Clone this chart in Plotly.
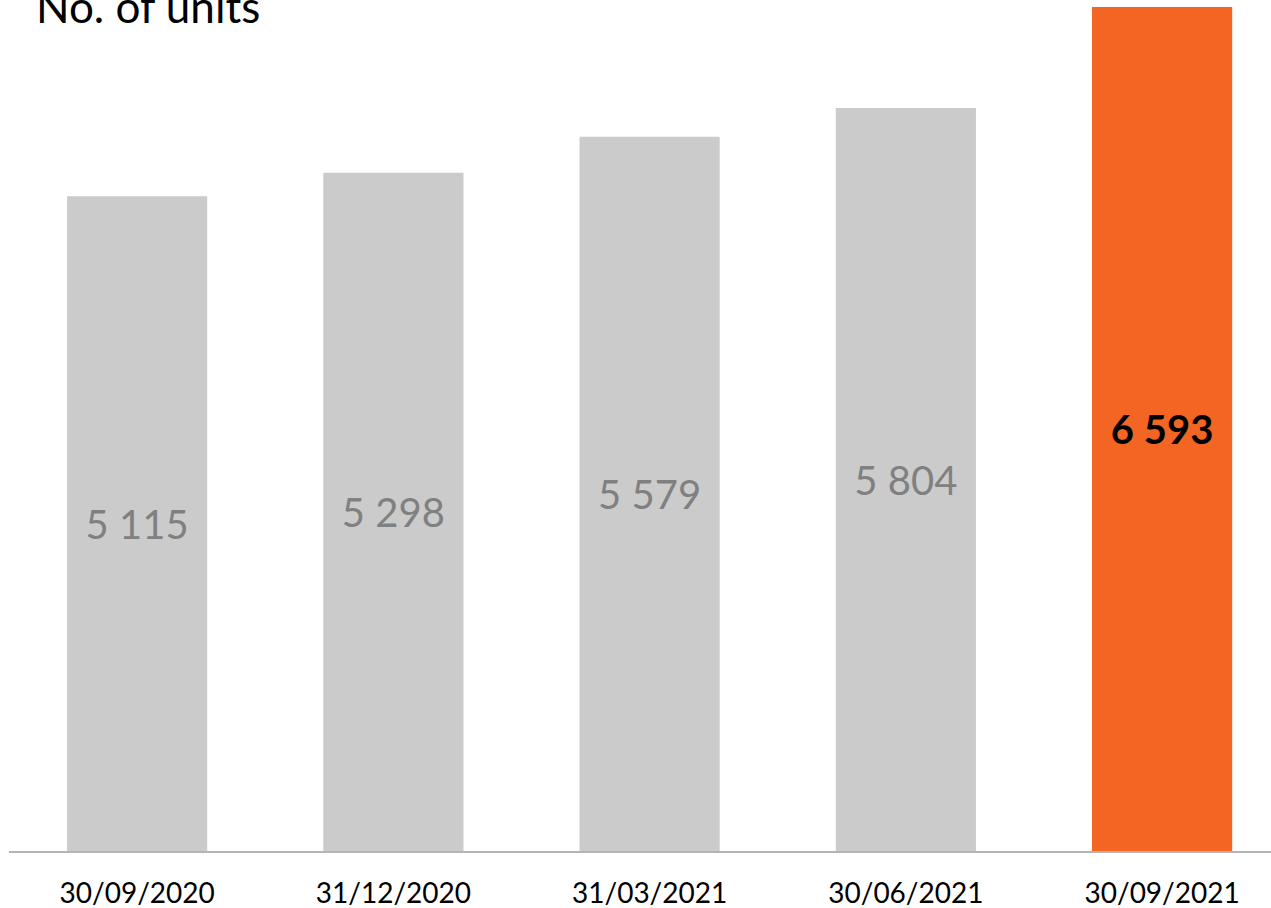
import plotly.graph_objects as go

categories = ["30/09/2020", "31/12/2020", "31/03/2021", "30/06/2021", "30/09/2021"]
values = [5115, 5298, 5579, 5804, 6593]
bar_colors = ["#CBCBCB", "#CBCBCB", "#CBCBCB", "#CBCBCB", "#F36523"]
label_colors = ["#808080", "#808080", "#808080", "#808080", "#000000"]
title_text = "No. of units"

labels = []
for i, v in enumerate(values):
    s = f"{v:,}".replace(",", " ")
    if i == len(values) - 1:
        s = f"<b>{s}</b>"
    labels.append(s)

fig = go.Figure(
    go.Bar(
        x=categories,
        y=values,
        marker=dict(color=bar_colors, line=dict(width=0)),
        text=labels,
        textposition="inside",
        insidetextanchor="middle",
        textangle=0,
        constraintext="none",
        textfont=dict(family="Lato", size=40, color=label_colors),
        hoverinfo="skip",
    )
)

W, H = 1271, 908
ml, mr, mt, mb = 9, 0, 0, 57
plot_h = H - mt - mb

fig.update_layout(
    width=W,
    height=H,
    margin=dict(l=ml, r=mr, t=mt, b=mb, autoexpand=False),
    paper_bgcolor="white",
    plot_bgcolor="white",
    bargap=0.453,
    showlegend=False,
    font=dict(family="Lato", color="#000000"),
    xaxis=dict(
        type="category",
        range=[-0.5, 4.425],
        showgrid=False,
        zeroline=False,
        showline=True,
        linecolor="#B4B4B4",
        linewidth=2,
        ticks="",
        ticklabelstandoff=16,
        tickfont=dict(family="Lato", size=28, color="#000000"),
        automargin=False,
        fixedrange=True,
    ),
    yaxis=dict(
        range=[0, 6593 * 851 / 844],
        visible=False,
        showgrid=False,
        zeroline=False,
        automargin=False,
        fixedrange=True,
    ),
    annotations=[
        dict(
            text=title_text,
            xref="paper",
            yref="paper",
            x=(34 - ml) / (W - ml - mr),
            y=1 - 6 / plot_h,
            xanchor="left",
            yanchor="middle",
            showarrow=False,
            font=dict(family="Lato", size=44, color="#000000"),
        )
    ],
)

fig.write_html(
    "out.html",
    config={"displayModeBar": False, "staticPlot": True},
    post_script="document.body.style.margin='0';document.body.style.padding='0';",
)
